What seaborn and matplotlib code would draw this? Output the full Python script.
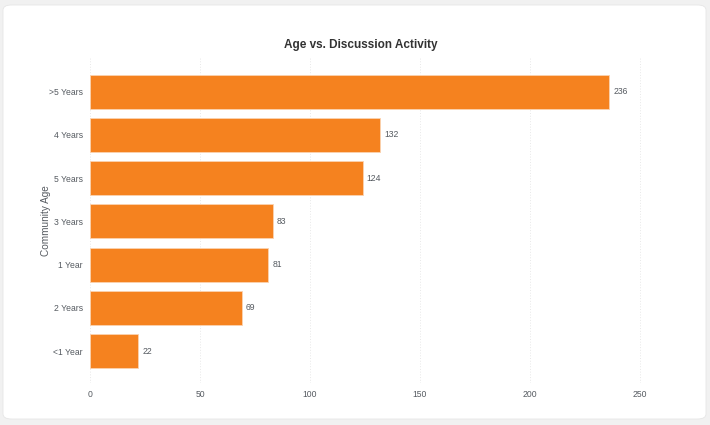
import matplotlib
matplotlib.use("Agg")
import matplotlib.pyplot as plt
from matplotlib.patches import FancyBboxPatch
import seaborn as sns
import pandas as pd

# Discussion activity by community age
ages = [">5 Years", "4 Years", "5 Years", "3 Years", "1 Year", "2 Years", "<1 Year"]
activity = [236, 132, 124, 83, 81, 69, 22]
x_ticks = [0, 50, 100, 150, 200, 250]

BAR = "#F5821F"
TEXT = "#555a60"

df = pd.DataFrame({"age": ages, "activity": activity})

sns.set_theme(style="white")
plt.rcParams["font.family"] = ["Liberation Sans", "DejaVu Sans"]

W, H = 710, 425
fig = plt.figure(figsize=(W / 100, H / 100), dpi=100, facecolor="#f1f1f1")

# white card behind the chart
card = FancyBboxPatch((3 / W, 6 / H), 703 / W, 414 / H,
                      boxstyle="round,pad=0,rounding_size=0.012",
                      transform=fig.transFigure, facecolor="white",
                      edgecolor="#e6e6e6", linewidth=0.6, zorder=-10)
fig.patches.append(card)

left, right = 90 / W, 662 / W
top, bottom = 1 - 58 / H, 1 - 383 / H
ax = fig.add_axes([left, bottom, right - left, top - bottom])
ax.set_zorder(5)
ax.set_facecolor("none")

sns.barplot(data=df, x="activity", y="age", order=ages, orient="h",
            color=BAR, saturation=1, width=0.79, edgecolor="#fbd3b0",
            linewidth=0.6, ax=ax, zorder=3)

ax.set_xlim(0, 260)
ax.set_ylim(6.5 + 0.24, -0.5 - 0.28)
ax.set_xticks(x_ticks)
ax.set_xticklabels([str(t) for t in x_ticks])
ax.grid(axis="x", color="#e8e8e8", linestyle=(0, (1.0, 1.8)), linewidth=0.7, zorder=0)
ax.grid(axis="y", visible=False)
for s in ax.spines.values():
    s.set_visible(False)

ax.tick_params(axis="both", length=0, labelsize=6.2, labelcolor=TEXT)
ax.tick_params(axis="x", pad=5)
ax.tick_params(axis="y", pad=5)

for i, v in enumerate(activity):
    ax.text(v + 1.8, i, f"{v}", va="center", ha="left", fontsize=6.2, color=TEXT, zorder=4)

ax.set_xlabel("")
ax.set_ylabel("Community Age", fontsize=7.2, color=TEXT)
ax.yaxis.set_label_coords(-39 / 572, 0.5)

fig.text(361 / W, 1 - 45 / H, "Age vs. Discussion Activity", ha="center", va="center",
         fontsize=8.5, fontweight="bold", color="#333333")

fig.savefig("out.png", dpi=100, facecolor=fig.get_facecolor())
